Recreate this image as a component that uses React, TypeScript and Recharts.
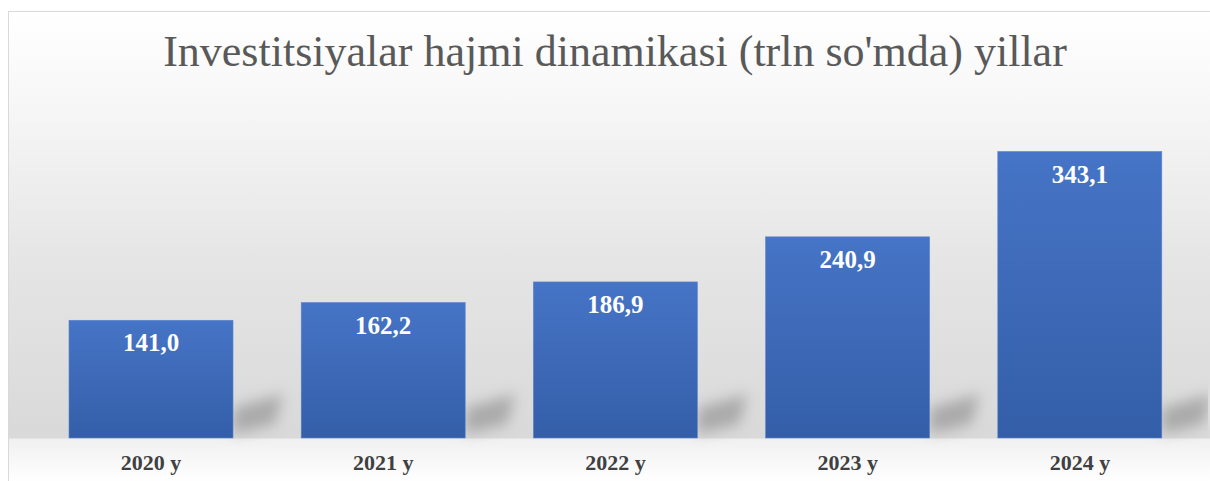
import { BarChart, Bar, XAxis, YAxis, LabelList } from "recharts";

const years = ["2020 y", "2021 y", "2022 y", "2023 y", "2024 y"];
const volumes = [141.0, 162.2, 186.9, 240.9, 343.1];
const valueLabels = ["141,0", "162,2", "186,9", "240,9", "343,1"];

const data = years.map((year, i) => ({
  year,
  value: volumes[i],
  label: valueLabels[i],
}));

const SERIF = '"Liberation Serif", "Times New Roman", serif';

// bar with a soft diagonal shadow behind it
function ShadowBar(props: any) {
  const { x, y, width, height } = props;
  const bottom = y + height;
  const right = x + width;
  const shadow = `${right},${bottom - 4} ${right},${bottom - 30} ${right + 50},${bottom - 44} ${right + 42},${bottom - 14}`;
  return (
    <g>
      <polygon points={shadow} fill="#7a7a7a" opacity={0.5} filter="url(#blurShadow)" />
      <rect x={x} y={y} width={width} height={height} fill="url(#barFill)" stroke="#5b82cc" strokeWidth={0.6} />
    </g>
  );
}

function YearTick(props: any) {
  const { x, y, payload } = props;
  return (
    <text x={x} y={y} dy={32} textAnchor="middle" fontFamily={SERIF} fontWeight="bold" fontSize={22} fill="#404040">
      {payload.value}
    </text>
  );
}

export default function App() {
  return (
    <div
      style={{
        position: "absolute",
        left: 8,
        top: 11,
        width: 1202,
        height: 470,
        border: "1px solid #d9d9d9",
        borderRight: "none",
        borderBottom: "none",
        boxSizing: "border-box",
        overflow: "hidden",
        background:
          "linear-gradient(to bottom, #ffffff 0px, #f8f8f8 80px, #e5e5e5 250px, #d9d9d9 426px, #f0f0f0 427px, #ffffff 470px)",
      }}
    >
      <div
        style={{
          position: "absolute",
          left: 0,
          top: 15,
          width: 1212,
          textAlign: "center",
          fontFamily: SERIF,
          fontSize: 44,
          lineHeight: "50px",
          color: "#595959",
          whiteSpace: "nowrap",
        }}
      >
        Investitsiyalar hajmi dinamikasi (trln so'mda) yillar
      </div>
      <BarChart
        width={1200}
        height={470}
        data={data}
        margin={{ top: 93, right: 12, left: 27, bottom: 0 }}
        style={{ position: "absolute", left: -1, top: -1 }}
      >
        <defs>
          <linearGradient id="barFill" x1="0" y1="0" x2="0" y2="1">
            <stop offset="0%" stopColor="#4674c6" />
            <stop offset="100%" stopColor="#345ea8" />
          </linearGradient>
          <filter id="blurShadow" x="-80%" y="-80%" width="260%" height="260%">
            <feGaussianBlur stdDeviation="7" />
          </filter>
        </defs>
        <XAxis
          dataKey="year"
          axisLine={false}
          tickLine={false}
          tickSize={0}
          tickMargin={0}
          height={43}
          tick={<YearTick />}
          interval={0}
        />
        <YAxis hide domain={[0, 400]} />
        <Bar dataKey="value" barSize={164} shape={<ShadowBar />} isAnimationActive={false}>
          <LabelList
            dataKey="label"
            content={(p: any) => (
              <text
                x={p.x + p.width / 2}
                y={p.y + 31}
                textAnchor="middle"
                fontFamily={SERIF}
                fontWeight="bold"
                fontSize={25}
                fill="#ffffff"
              >
                {p.value}
              </text>
            )}
          />
        </Bar>
      </BarChart>
    </div>
  );
}
